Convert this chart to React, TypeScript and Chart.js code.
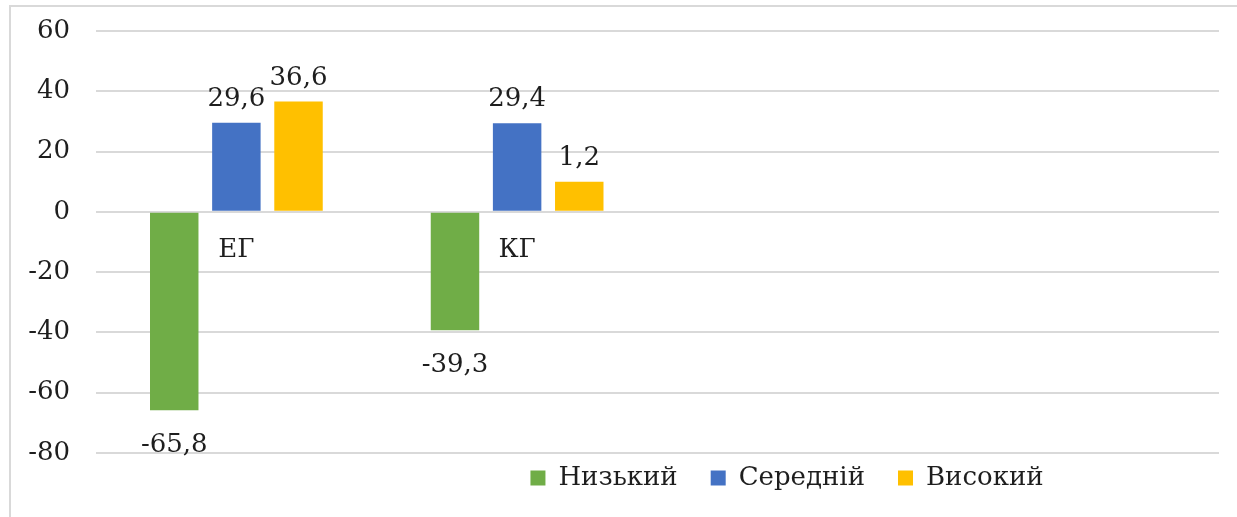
import React, { useEffect, useRef } from 'react';
import { Chart, registerables } from 'chart.js';

Chart.register(...registerables);

const categories = ['ЕГ', 'КГ', '', ''];
const seriesNames = ['Низький', 'Середній', 'Високий'];
const lowValues = [-65.8, -39.3, null, null];
const midValues = [29.6, 29.4, null, null];
const highValues = [36.6, 10, null, null];
const lowLabels = ['-65,8', '-39,3'];
const midLabels = ['29,6', '29,4'];
const highLabels = ['36,6', '1,2'];
const yTickValues = [-80, -60, -40, -20, 0, 20, 40, 60];

const colors = ['#70AD47', '#4472C4', '#FFC000'];
const FONT = "'DejaVu Serif', 'Liberation Serif', serif";
const FONT_SIZE = 26;
const TEXT = '#1e1e1e';
const LEGEND_PAD = 33;
const CANVAS_W = 1574;
const CANVAS_H = 540;
const PLOT_RIGHT = 1219;

const valueLabelPlugin = {
  id: 'valueLabels',
  afterDatasetsDraw(chart: any) {
    const ctx = chart.ctx;
    const labelSets = [lowLabels, midLabels, highLabels];
    ctx.save();
    ctx.font = `${FONT_SIZE}px ${FONT}`;
    ctx.fillStyle = TEXT;
    ctx.textAlign = 'center';
    ctx.textBaseline = 'alphabetic';
    chart.data.datasets.forEach((ds: any, di: number) => {
      const meta = chart.getDatasetMeta(di);
      meta.data.forEach((bar: any, i: number) => {
        const v = ds.data[i];
        const txt = labelSets[di][i];
        if (v === null || v === undefined || !txt) return;
        const y = v >= 0 ? bar.y - 17 : bar.y + 42;
        ctx.fillText(txt, bar.x, y);
      });
    });
    ctx.restore();
  },
};

const legendShiftPlugin = {
  id: 'legendShift',
  afterLayout(chart: any) {
    const l = chart.legend;
    if (!l) return;
    const center = l.top + LEGEND_PAD + FONT_SIZE / 2;
    const d = center - 478;
    l.top -= d;
    l.bottom -= d;
  },
};

export default function App() {
  const ref = useRef<HTMLCanvasElement | null>(null);
  useEffect(() => {
    if (!ref.current) return;
    const chart = new Chart(ref.current, {
      type: 'bar',
      data: {
        labels: categories,
        datasets: [
          { label: seriesNames[0], data: lowValues, backgroundColor: colors[0], borderWidth: 0 },
          { label: seriesNames[1], data: midValues, backgroundColor: colors[1], borderWidth: 0 },
          { label: seriesNames[2], data: highValues, backgroundColor: colors[2], borderWidth: 0 },
        ],
      },
      options: {
        responsive: false,
        animation: false,
        events: [],
        layout: { padding: { left: 0, right: 0, top: 31, bottom: 18 } },
        datasets: { bar: { categoryPercentage: 0.664, barPercentage: 0.78 } },
        scales: {
          x: {
            type: 'category',
            position: { y: 0 },
            grid: { display: false },
            border: { display: false },
            ticks: {
              font: { family: FONT, size: FONT_SIZE },
              color: TEXT,
              padding: 15,
              maxRotation: 0,
              autoSkip: false,
            },
          },
          y: {
            position: 'left',
            min: yTickValues[0],
            max: yTickValues[yTickValues.length - 1],
            ticks: {
              stepSize: 20,
              font: { family: FONT, size: FONT_SIZE },
              color: TEXT,
              padding: 26,
              callback: (v: any) => String(v),
            },
            grid: { color: '#d9d9d9', lineWidth: 2, drawTicks: false },
            border: { display: false },
            afterFit: (s: any) => {
              s.width = 96;
              s.paddingTop = 0;
              s.paddingBottom = 0;
            },
          },
          y2: {
            type: 'linear',
            position: 'right',
            display: true,
            grid: { display: false },
            ticks: { display: false },
            border: { display: false },
            afterFit: (s: any) => {
              s.width = CANVAS_W - PLOT_RIGHT;
              s.paddingTop = 0;
              s.paddingBottom = 0;
            },
          },
        },
        plugins: {
          tooltip: { enabled: false },
          legend: {
            position: 'bottom',
            labels: {
              font: { family: FONT, size: FONT_SIZE },
              color: TEXT,
              boxWidth: 15,
              boxHeight: 15,
              padding: LEGEND_PAD,
            },
          },
        },
      },
      plugins: [valueLabelPlugin, legendShiftPlugin],
    } as any);
    return () => chart.destroy();
  }, []);

  return (
    <div style={{ position: 'absolute', left: 0, top: 0, width: 1237, height: 517, overflow: 'hidden', background: '#fff' }}>
      <div
        style={{
          position: 'absolute',
          left: 9,
          top: 5,
          width: 3000,
          height: 3000,
          borderLeft: '2px solid #d9d9d9',
          borderTop: '2px solid #d9d9d9',
        }}
      />
      <canvas ref={ref} width={CANVAS_W} height={CANVAS_H} style={{ position: 'absolute', left: 0, top: 0 }} />
    </div>
  );
}
